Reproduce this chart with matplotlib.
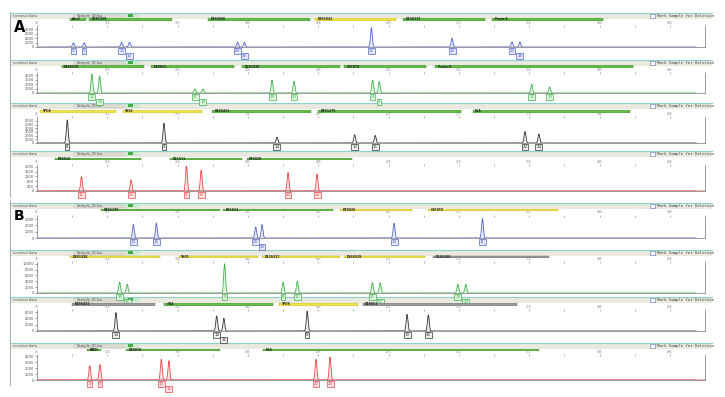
import matplotlib.pyplot as plt
import numpy as np

W, H = 725, 397

# ---- data: peaks (bp, rfu, allele call) per dye lane, bins per lane ----
a_blue_bp = [95.7, 101.9, 123.1, 127.6, 189.1, 193.0, 265.2, 311.1, 345.2, 349.7]
a_blue_rfu = [1900, 1900, 2150, 2150, 2200, 2100, 8850, 4000, 2300, 2300]
a_blue_call = ["X", "Y", "15", "16", "29", "30", "12", "12", "15", "18"]
a_blue_loci = ["Amel", "D3S1358", "D1S1656", "D6S1043", "D13S317", "Penta E"]
a_blue_start = [93.5, 104.6, 172.3, 233.3, 283.1, 334.0]
a_blue_end = [103.0, 151.6, 230.5, 279.2, 330.1, 396.7]
a_blue_bin = ["g", "g", "g", "y", "g", "g"]

a_green_bp = [106.2, 110.6, 164.9, 169.4, 208.7, 221.2, 265.9, 269.7, 356.4, 366.6]
a_green_rfu = [4250, 3800, 900, 900, 2900, 2700, 2900, 2600, 2000, 1350]
a_green_call = ["12", "14", "17", "18", "19", "23", "8", "9", "10", "13"]
a_green_loci = ["D16S539", "D18S51", "D2S1338", "CSF1PO", "Penta D"]
a_green_start = [89.0, 139.9, 191.9, 249.5, 301.6]
a_green_end = [136.0, 186.9, 247.3, 296.5, 414.0]
a_green_bin = ["g", "g", "g", "g", "g"]

a_black_bp = [92.2, 147.2, 211.5, 255.7, 267.4, 352.6, 360.5]
a_black_rfu = [6270, 5380, 1610, 2230, 2040, 3120, 2450]
a_black_call = ["8", "9", "14", "13", "15", "22", "24"]
a_black_loci = ["TPOX", "TH01", "D19S433", "D8S1179", "FGA"]
a_black_start = [76.7, 123.7, 174.6, 235.0, 322.8]
a_black_end = [119.8, 169.0, 231.1, 316.1, 412.3]
a_black_bin = ["y", "y", "g", "g", "g"]

a_red_bp = [100.3, 128.5, 160.0, 168.4, 217.8, 234.3]
a_red_rfu = [1180, 910, 2100, 1710, 1520, 1390]
a_red_call = ["11", "13", "9", "13", "10", "12"]
a_red_loci = ["D5S818", "D21S11", "D7S820"]
a_red_start = [85.1, 150.5, 194.2]
a_red_end = [134.3, 191.4, 254.0]
a_red_bin = ["g", "g", "g"]

b_blue_bp = [129.8, 142.9, 199.4, 203.0, 278.1, 328.4]
b_blue_rfu = [2150, 2400, 1750, 2150, 2350, 3100]
b_blue_call = ["13", "16", "29", "30", "10", "11"]
b_blue_loci = ["D8S1179", "D21S11", "D7S820", "CSF1PO"]
b_blue_start = [111.4, 180.7, 247.3, 297.6]
b_blue_end = [179.0, 243.4, 288.1, 371.5]
b_blue_bin = ["g", "g", "y", "y"]

b_green_bp = [122.0, 126.3, 181.7, 215.0, 223.1, 265.8, 270.2, 314.4, 318.9]
b_green_rfu = [3700, 3000, 10000, 3700, 4000, 3500, 3500, 3000, 3000]
b_green_call = ["15", "16", "9", "8", "11", "11", "12", "19", "20"]
b_green_loci = ["D3S1358", "TH01", "D13S317", "D16S539", "D2S1338"]
b_green_start = [94.0, 155.6, 203.1, 249.5, 300.4]
b_green_end = [144.9, 200.9, 247.3, 296.0, 366.4]
b_green_bin = ["y", "y", "y", "y", "k"]

b_black_bp = [119.9, 177.2, 181.3, 228.7, 285.5, 297.6]
b_black_rfu = [5850, 4800, 4000, 6300, 5300, 5100]
b_black_call = ["14", "14", "16", "8", "13", "16"]
b_black_loci = ["D19S433", "vWA", "TPOX", "D18S51"]
b_black_start = [95.1, 147.2, 212.6, 260.2]
b_black_end = [142.1, 209.3, 257.4, 348.0]
b_black_bin = ["k", "g", "y", "k"]

b_red_bp = [105.0, 110.8, 145.7, 150.0, 233.7, 241.7]
b_red_rfu = [2430, 2600, 3500, 3250, 3500, 3900]
b_red_call = ["X", "Y", "10", "11", "22", "24"]
b_red_loci = ["AMEL", "D5S818", "FGA"]
b_red_start = [103.5, 125.9, 203.7]
b_red_end = [111.4, 179.0, 360.3]
b_red_bin = ["g", "g", "g"]

x_ticks = [75, 115, 155, 195, 235, 275, 315, 355, 395, 435]

lanes = [
    (a_blue_bp, a_blue_rfu, a_blue_call, a_blue_loci, a_blue_start, a_blue_end, a_blue_bin, "blue", [0, 2000, 4000, 6000, 8000], 9300),
    (a_green_bp, a_green_rfu, a_green_call, a_green_loci, a_green_start, a_green_end, a_green_bin, "green", [0, 1000, 2000, 3000, 4000], 4400),
    (a_black_bp, a_black_rfu, a_black_call, a_black_loci, a_black_start, a_black_end, a_black_bin, "black", [0, 1000, 2000, 3000, 4000, 5000, 6000], 6800),
    (a_red_bp, a_red_rfu, a_red_call, a_red_loci, a_red_start, a_red_end, a_red_bin, "red", [0, 400, 800, 1200, 1600, 2000], 2060),
    (b_blue_bp, b_blue_rfu, b_blue_call, b_blue_loci, b_blue_start, b_blue_end, b_blue_bin, "blue", [0, 1000, 2000, 3000], 3430),
    (b_green_bp, b_green_rfu, b_green_call, b_green_loci, b_green_start, b_green_end, b_green_bin, "green", [0, 2000, 4000, 6000, 8000, 10000], 10200),
    (b_black_bp, b_black_rfu, b_black_call, b_black_loci, b_black_start, b_black_end, b_black_bin, "black", [0, 2000, 4000, 6000], 6370),
    (b_red_bp, b_red_rfu, b_red_call, b_red_loci, b_red_start, b_red_end, b_red_bin, "red", [0, 1000, 2000, 3000, 4000], 4050),
]

# pixel layout: header top, bin bar top, plot top, plot bottom
rows = [(13, 18.2, 26.6, 47), (60, 65.2, 73.6, 93), (103, 110, 118, 143), (151, 157.5, 166, 191),
        (203, 208.5, 216.5, 238), (250, 255.5, 263.1, 293), (297, 303, 311, 331), (343, 348.5, 356.1, 380)]

dye = {"blue": ("#5566c4", "#e2e6f8"), "green": ("#3fb24a", "#e0f4e0"),
       "black": ("#333333", "#eeeeee"), "red": ("#e8454a", "#fde3e3")}
binc = {"g": ("#66bb4a", "#3d8a2a"), "y": ("#f2e24e", "#b8a520"), "k": ("#9a9a9a", "#666666")}

fig = plt.figure(figsize=(7.25, 3.97), dpi=100)


def fr(x0, y0, x1, y1):
    return [x0 / W, 1 - y1 / H, (x1 - x0) / W, (y1 - y0) / H]


bg = fig.add_axes([0, 0, 1, 1])
bg.set_xlim(0, W)
bg.set_ylim(H, 0)
bg.axis("off")

# outer frames
for y0, y1 in [(12, 197), (200, 385)]:
    bg.plot([10, 10], [y0, y1], color="#9a9a9a", lw=0.6)
bg.text(14, 19.5, "A", fontsize=10.5, fontweight="bold", va="top")
bg.text(14, 209.2, "B", fontsize=10, fontweight="bold", va="top")

xg = np.linspace(75, 450, 7000)

for (bp, rfu, call, loci, st, en, bins, col, yt, ymax), (hy, by, py0, py1) in zip(lanes, rows):
    line_c, fill_c = dye[col]
    # header strip
    bg.add_patch(plt.Rectangle((10, hy), 702, 5.5, fc="#e9e9df", ec="none"))
    bg.plot([10, 712], [hy, hy], color="#8fd0cc", lw=0.8)
    bg.text(13, hy + 2.8, "nominal data", fontsize=2.6, color="#555555", va="center")
    bg.add_patch(plt.Rectangle((74, hy + 0.6), 50, 4.4, fc="#dcdcd2", ec="#bbbbbb", lw=0.3))
    bg.text(77, hy + 2.8, "Sample_ID.fsa", fontsize=2.6, color="#555555", va="center")
    bg.add_patch(plt.Rectangle((125, hy + 0.6), 15, 4.4, fc="#cfe8cf", ec="none"))
    bg.add_patch(plt.Rectangle((128, hy + 1.2), 5, 3.2, fc="#44aa44", ec="none"))
    bg.add_patch(plt.Rectangle((650, hy + 1.2), 5, 3.4, fc="white", ec="#5566c4", lw=0.4))
    bg.text(657, hy + 2.9, "Mark Sample for Deletion", fontsize=2.9, family="DejaVu Sans Mono",
            color="#444444", va="center")

    ax = fig.add_axes(fr(37, py0, 705, py1))
    bax = fig.add_axes(fr(37, by, 705, by + 2.6), sharex=ax)
    bax.axis("off")
    bax.set_ylim(0, 1)

    # bins
    for name, s, e, b in zip(loci, st, en, bins):
        fc, ec = binc[b]
        bax.barh(0.5, e - s, left=s, height=1, color=fc, edgecolor=ec, linewidth=0.3)
        bax.text(s + 1.5, 0.5, name, fontsize=2.2, fontweight="bold", color="#222222", va="center")

    # trace
    trace = np.zeros_like(xg)
    for p, h in zip(bp, rfu):
        trace += h * np.exp(-0.5 * ((xg - p) / 0.5) ** 2)
    ax.fill_between(xg, 0, trace, color=fill_c, lw=0)
    ax.plot(xg, trace, color=line_c, lw=0.6)
    if col == "red":
        ax.axhline(0, color=line_c, lw=1.2, alpha=0.5)

    ax.set_xlim(75, 449.5)
    ax.set_ylim(0, ymax)
    ax.set_yticks(yt)
    ax.set_yticklabels([str(v) for v in yt])
    ax.set_xticks(x_ticks)
    ax.set_xticks([t + 20 for t in x_ticks], minor=True)
    ax.xaxis.tick_top()
    ax.tick_params(axis="x", which="both", labelsize=2.2, length=1.2, width=0.4, colors="#777777", pad=0.3)
    ax.tick_params(axis="y", labelsize=2.6, length=1.5, width=0.4, colors="#555555", pad=0.5)
    ax.spines["top"].set_visible(False)
    for s in ["left", "right", "bottom"]:
        ax.spines[s].set_color("#8a8a8a")
        ax.spines[s].set_linewidth(0.6)

    # allele call boxes, staggered when crowded
    prev_x, prev_row = -100, 1
    for p, c in zip(bp, call):
        px = 37 + (p - 75) * 668 / 374.5
        row = 1 if (px - prev_x < 7.5 + 2 * len(c) and prev_row == 0) else 0
        ax.annotate(c, xy=(p, 0), xytext=(0, -1.5 - row * 3.8), textcoords="offset points",
                    ha="center", va="top", fontsize=2.8, color=line_c, annotation_clip=False,
                    bbox=dict(boxstyle="square,pad=0.25", fc=fill_c, ec=line_c, lw=0.5))
        prev_x, prev_row = px, row

fig.savefig("out.png", dpi=100)
